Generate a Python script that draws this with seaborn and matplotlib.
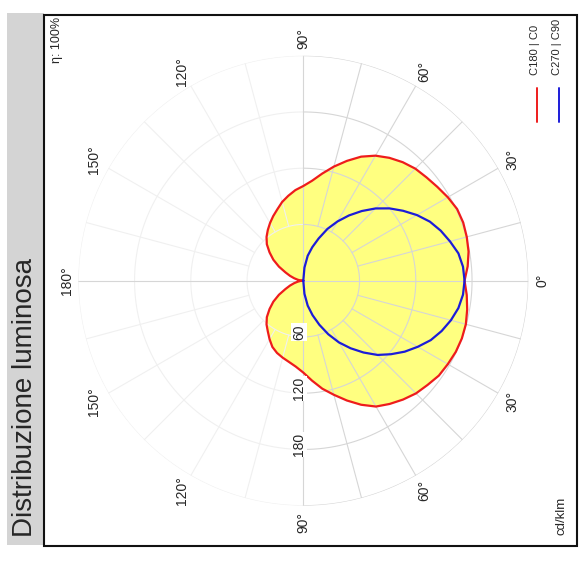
import numpy as np
import pandas as pd
import matplotlib.pyplot as plt
import seaborn as sns
from matplotlib.patches import Rectangle

# =====================================================
# DATA (cd/klm)
# =====================================================
gamma_c = list(range(0, 181, 5))
c0 = [172, 176, 179, 180.5, 181.5, 181, 178, 174.5, 171.5, 169, 165, 160, 154, 146,
      136, 126, 116, 107, 101, 97, 92, 87, 81, 76, 71, 66, 61, 55, 47, 39, 30, 21,
      15, 10, 6, 3, 0]
c180 = [172, 175, 177.5, 179.5, 180, 179.5, 178, 176.5, 173, 170, 165.5, 160.5, 155,
        146, 136, 126, 117, 107, 98, 92, 88, 85, 82, 78, 72, 66, 61, 55, 47, 39, 30,
        21, 15, 10, 6, 3, 0]

gamma_b = list(range(0, 91, 5))
c90 = [172, 171, 168, 162, 156, 149, 140, 130, 120, 109, 97, 85, 73, 61, 48, 37, 27, 14, 0]
c270 = [172, 171, 168, 163, 157, 150, 141, 132, 122, 112, 100, 88, 76, 63, 50, 38, 27, 14, 0]

radial_ticks = [60, 120, 180]
grid_circles = [60, 120, 180, 240]
angle_ticks = [0, 30, 60, 90, 120, 150, 180]

title = "Distribuzione luminosa"
legend_labels = ["C180 | C0", "C270 | C90"]
unit_label = "cd/klm"
eta_label = "η: 100%"

RED = "#ee1c1c"
BLUE = "#1c1cd8"
YELLOW = "#ffff80"

# =====================================================
# STYLE
# =====================================================
sns.set_style("white")
plt.rcParams["font.family"] = ["Liberation Sans", "DejaVu Sans"]

W, H = 579, 572
fig = plt.figure(figsize=(W / 100, H / 100), dpi=100)
fig.patch.set_facecolor("white")

# overlay axes in pixel coordinates (frame, title bar, legend, notes)
bg = fig.add_axes([0, 0, 1, 1])
bg.set_xlim(0, W)
bg.set_ylim(H, 0)
bg.axis("off")

bg.add_patch(Rectangle((7.3, 13.3), 37, 531.7, color="#d4d4d4", lw=0))
bg.add_patch(Rectangle((44.3, 15), 532.4, 531, fill=False, ec="#111111", lw=1.5))
bg.text(25, 537, title, rotation=90, ha="center", va="bottom", fontsize=20)
bg.text(57, 17, eta_label, rotation=90, ha="center", va="top", fontsize=9)
bg.text(561.5, 535, unit_label, rotation=90, ha="center", va="bottom", fontsize=9.5)

for xpos, col, lab in zip([537.3, 559.3], [RED, BLUE], legend_labels):
    bg.plot([xpos, xpos], [88, 122], color=col, lw=1.4)
    bg.text(xpos - 2, 75, lab, rotation=90, ha="center", va="bottom", fontsize=8)

# =====================================================
# POLAR DIAGRAM
# =====================================================
cx, cy, rad = 303.3, 280.7, 225
ax = fig.add_axes([(cx - rad) / W, (H - cy - rad) / H, 2 * rad / W, 2 * rad / H],
                  projection="polar")
ax.set_theta_zero_location("E")
ax.set_ylim(0, 240)
ax.set_xticks([])
ax.set_yticks([])
ax.grid(False)
ax.spines["polar"].set_visible(False)
ax.patch.set_alpha(0)

g_c = np.deg2rad(gamma_c)
g_b = np.deg2rad(gamma_b)

red_df = pd.DataFrame({
    "theta": np.concatenate([-g_c[::-1], g_c[1:]]),
    "r": np.concatenate([np.array(c180)[::-1], np.array(c0)[1:]]),
})
blue_df = pd.DataFrame({
    "theta": np.concatenate([-g_b[::-1], g_b[1:]]),
    "r": np.concatenate([np.array(c270)[::-1], np.array(c90)[1:]]),
})

ax.fill(red_df["theta"], red_df["r"], color=YELLOW, lw=0, zorder=1)

# grid: right half grey, left half very faint
dark, light = "#d6d6d6", "#f0f0f0"
t_right = np.linspace(-np.pi / 2, np.pi / 2, 200)
t_left = np.linspace(np.pi / 2, 3 * np.pi / 2, 200)
for rc in grid_circles:
    ax.plot(t_right, np.full_like(t_right, rc), color=dark, lw=0.8, zorder=2)
    ax.plot(t_left, np.full_like(t_left, rc), color=light, lw=0.8, zorder=2)
for a in range(0, 360, 15):
    t = np.deg2rad(a)
    if a % 90 == 0:
        ax.plot([t, t], [0, 240], color=dark, lw=0.8, zorder=2)
    else:
        col = dark if (a < 90 or a > 270) else light
        ax.plot([t, t], [60, 240], color=col, lw=0.8, zorder=2)

# curves
sns.lineplot(data=red_df, x="theta", y="r", sort=False, estimator=None,
             color=RED, lw=1.6, ax=ax, zorder=3)
sns.lineplot(data=blue_df, x="theta", y="r", sort=False, estimator=None,
             color=BLUE, lw=1.6, ax=ax, zorder=3)
ax.set_xlabel("")
ax.set_ylabel("")

# radial labels along the lower vertical
for rv in radial_ticks:
    ax.annotate(str(rv), xy=(-np.pi / 2, rv - 5), xytext=(-3, 0),
                textcoords="offset points", rotation=90, ha="center", va="center",
                fontsize=10, zorder=4,
                bbox=dict(fc="white", ec="none", pad=0.8))

# angle labels
for a in angle_ticks:
    rl = 255 if a == 0 else (252 if a == 180 else 258)
    for s in ([1] if a in (0, 180) else [1, -1]):
        ax.text(np.deg2rad(s * a), rl, f"{a}°", rotation=90, ha="center",
                va="center", fontsize=10)

plt.savefig("out.png", dpi=100)
